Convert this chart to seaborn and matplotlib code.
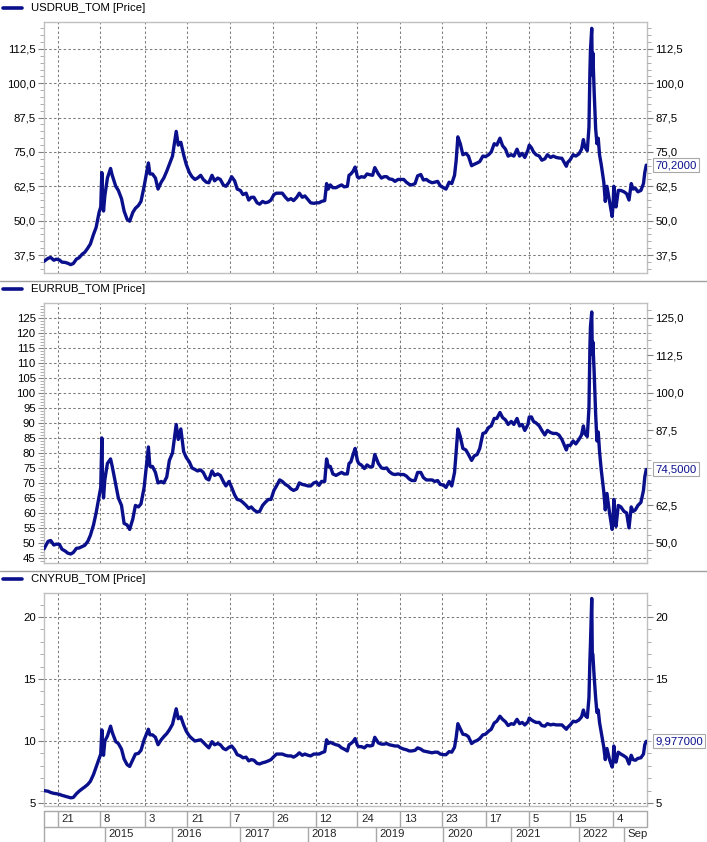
import matplotlib
matplotlib.use("Agg")
import matplotlib.pyplot as plt
from matplotlib.lines import Line2D
import seaborn as sns
import pandas as pd

sns.set_theme(style="white")
plt.rcParams['font.family'] = ['Liberation Sans', 'DejaVu Sans']

# ---------------- data ----------------
dates = [
    "2014-02-07", "2014-03-01", "2014-03-15", "2014-04-01", "2014-04-15", "2014-05-01", "2014-05-15",
    "2014-06-01", "2014-06-15", "2014-07-01", "2014-07-15", "2014-08-01", "2014-08-15", "2014-09-01",
    "2014-09-15", "2014-10-01", "2014-10-15", "2014-11-01", "2014-11-15", "2014-12-01", "2014-12-10",
    "2014-12-16", "2014-12-19", "2014-12-25",
    "2015-01-01", "2015-01-15", "2015-02-01", "2015-02-10", "2015-03-01", "2015-03-15", "2015-04-01",
    "2015-04-15", "2015-05-01", "2015-05-15", "2015-06-01", "2015-06-15", "2015-07-01", "2015-07-15",
    "2015-08-01", "2015-08-24", "2015-09-01", "2015-09-15", "2015-10-01", "2015-10-15", "2015-11-01",
    "2015-11-15", "2015-12-01", "2015-12-15",
    "2016-01-01", "2016-01-21", "2016-02-01", "2016-02-15", "2016-03-01", "2016-03-15", "2016-04-01",
    "2016-04-15", "2016-05-01", "2016-05-15", "2016-06-01", "2016-06-15", "2016-07-01", "2016-07-15",
    "2016-08-01", "2016-08-15", "2016-09-01", "2016-09-15", "2016-10-01", "2016-10-15", "2016-11-01",
    "2016-11-15", "2016-12-01", "2016-12-15",
    "2017-01-01", "2017-01-15", "2017-02-01", "2017-02-15", "2017-03-01", "2017-03-15", "2017-04-01",
    "2017-04-15", "2017-05-01", "2017-05-15", "2017-06-01", "2017-06-15", "2017-07-01", "2017-07-15",
    "2017-08-01", "2017-08-15", "2017-09-01", "2017-09-15", "2017-10-01", "2017-10-15", "2017-11-01",
    "2017-11-15", "2017-12-01", "2017-12-15",
    "2018-01-01", "2018-01-15", "2018-02-01", "2018-02-15", "2018-03-01", "2018-03-15", "2018-04-01",
    "2018-04-11", "2018-04-20", "2018-05-01", "2018-05-15", "2018-06-01", "2018-06-15", "2018-07-01",
    "2018-07-15", "2018-08-01", "2018-08-10", "2018-08-20", "2018-09-01", "2018-09-12", "2018-09-24",
    "2018-10-01", "2018-10-15", "2018-11-01", "2018-11-15", "2018-12-01", "2018-12-15", "2018-12-27",
    "2019-01-15", "2019-02-01", "2019-02-15", "2019-03-01", "2019-03-15", "2019-04-01", "2019-04-15",
    "2019-05-01", "2019-05-15", "2019-06-01", "2019-06-15", "2019-07-01", "2019-07-15", "2019-08-01",
    "2019-08-15", "2019-09-01", "2019-09-15", "2019-10-01", "2019-10-15", "2019-11-01", "2019-11-15",
    "2019-12-01", "2019-12-15",
    "2020-01-01", "2020-01-15", "2020-02-01", "2020-02-15", "2020-03-01", "2020-03-10", "2020-03-19",
    "2020-04-01", "2020-04-15", "2020-05-01", "2020-05-15", "2020-06-01", "2020-06-15", "2020-07-01",
    "2020-07-15", "2020-08-01", "2020-08-15", "2020-09-01", "2020-09-15", "2020-10-01", "2020-10-15",
    "2020-11-01", "2020-11-15", "2020-12-01", "2020-12-15",
    "2021-01-01", "2021-01-15", "2021-02-01", "2021-02-15", "2021-03-01", "2021-03-15", "2021-04-01",
    "2021-04-08", "2021-04-20", "2021-05-01", "2021-05-15", "2021-06-01", "2021-06-15", "2021-07-01",
    "2021-07-15", "2021-08-01", "2021-08-15", "2021-09-01", "2021-09-15", "2021-10-01", "2021-10-15",
    "2021-10-25", "2021-11-01", "2021-11-15", "2021-12-01", "2021-12-15",
    "2022-01-01", "2022-01-15", "2022-01-25", "2022-02-01", "2022-02-15", "2022-02-24", "2022-03-01",
    "2022-03-04", "2022-03-11", "2022-03-14", "2022-03-17", "2022-03-24", "2022-04-01", "2022-04-08",
    "2022-04-15", "2022-04-22", "2022-05-01", "2022-05-15", "2022-05-23", "2022-06-01", "2022-06-15",
    "2022-06-29", "2022-07-04", "2022-07-08", "2022-07-15", "2022-07-20", "2022-08-01", "2022-08-15",
    "2022-09-01", "2022-09-15", "2022-09-28", "2022-10-10", "2022-10-20", "2022-11-01", "2022-11-15",
    "2022-12-01", "2022-12-15", "2022-12-22", "2022-12-30",
]

usd = [
    35.2, 36.3, 36.6, 35.6, 36.0, 35.7, 34.9, 34.8, 34.5, 34.0, 34.4, 36.0, 36.5, 37.8,
    38.5, 40.0, 41.5, 45.0, 47.5, 53.0, 55.0, 67.5, 60.0, 53.5,
    59.0, 65.5, 69.0, 66.5, 62.5, 61.0, 58.0, 53.5, 50.5, 49.8, 53.0, 54.5, 55.5, 57.0,
    62.5, 71.0, 67.0, 67.0, 65.5, 61.5, 64.0, 65.5, 68.0, 70.5,
    73.5, 82.5, 77.5, 78.5, 74.0, 70.5, 67.5, 66.0, 65.0, 65.5, 66.5, 65.0, 64.0, 63.8,
    66.5, 64.5, 65.5, 65.0, 63.0, 62.5, 64.0, 66.0, 64.5, 61.5,
    61.0, 59.5, 60.0, 57.5, 58.5, 58.5, 56.5, 56.0, 57.0, 56.5, 56.8, 57.5, 59.5, 60.0,
    60.0, 60.0, 58.5, 57.5, 58.0, 57.3, 58.5, 60.0, 58.5, 59.0,
    57.6, 56.5, 56.3, 56.5, 56.5, 57.0, 57.3, 63.5, 61.5, 63.0, 62.0, 62.0, 62.5, 63.0,
    62.3, 62.5, 66.5, 67.0, 68.0, 69.5, 66.0, 65.5, 66.0, 65.8, 67.0, 66.7, 66.5, 69.3,
    67.0, 65.5, 66.0, 66.0, 65.2, 65.0, 64.3, 65.0, 65.0, 65.0, 64.0, 63.2, 63.0, 63.5,
    66.3, 66.8, 64.8, 65.0, 64.3, 63.8, 64.0, 64.3, 62.7,
    62.0, 61.5, 64.0, 63.5, 66.5, 72.0, 80.5, 78.0, 74.0, 74.5, 73.5, 70.0, 70.5, 71.0,
    71.5, 73.5, 73.3, 74.0, 75.0, 78.0, 77.5, 80.0, 77.3, 76.0, 73.5,
    74.0, 73.5, 76.0, 73.5, 74.5, 73.0, 75.7, 77.5, 76.5, 75.0, 74.0, 73.5, 72.0, 72.5,
    74.0, 73.0, 73.5, 73.0, 72.8, 72.7, 71.0, 69.8, 71.2, 72.2, 74.0, 73.5,
    74.3, 76.0, 79.5, 77.0, 75.5, 84.0, 104.0, 112.0, 120.0, 103.0, 111.0, 97.0, 83.5, 78.0,
    80.0, 74.0, 70.5, 64.0, 57.0, 62.5, 57.0, 51.5, 55.5, 62.5, 57.0, 55.0, 61.0, 61.0,
    60.5, 59.8, 57.5, 63.5, 61.5, 61.8, 60.5, 61.0, 63.5, 67.5, 70.2,
]

eur = [
    48.0, 50.5, 50.8, 49.3, 49.6, 49.5, 47.9, 47.3, 46.6, 46.3, 46.8, 48.2, 48.3, 48.8,
    49.2, 50.5, 52.5, 56.0, 60.0, 65.5, 68.5, 85.0, 74.0, 65.0,
    71.0, 76.5, 78.0, 75.5, 69.5, 65.0, 62.5, 56.5, 56.0, 54.5, 58.0, 62.5, 62.0, 63.0,
    68.5, 82.0, 75.5, 75.5, 73.5, 70.0, 70.5, 70.0, 72.0, 77.5,
    80.0, 89.5, 84.5, 88.0, 80.5, 78.5, 77.0, 75.0, 74.5, 74.0, 74.3, 73.5, 71.5, 71.0,
    74.0, 72.5, 73.0, 72.5, 70.5, 69.0, 70.5, 68.5, 66.0, 64.5,
    64.2, 63.5, 62.5, 61.5, 62.0, 61.0, 60.3, 60.5, 62.5, 63.5, 64.5, 64.5, 67.5, 69.0,
    71.0, 70.5, 69.5, 69.0, 68.0, 67.5, 68.0, 70.0, 69.5, 69.3,
    69.0, 69.0, 70.0, 70.3, 69.2, 70.5, 70.5, 78.0, 75.5, 75.5, 73.0, 72.5, 73.0, 73.5,
    73.0, 73.0, 76.5, 77.0, 79.5, 81.5, 77.5, 76.5, 76.0, 74.8, 76.0, 75.3, 75.5, 79.5,
    76.5, 75.0, 74.8, 75.0, 73.8, 73.0, 72.8, 73.0, 72.8, 72.8, 72.3, 71.3, 70.8, 70.8,
    73.5, 73.5, 71.8, 71.0, 71.0, 71.0, 70.5, 70.8, 69.5,
    69.3, 68.5, 70.5, 69.0, 73.5, 80.5, 88.0, 85.5, 81.5, 81.0, 79.5, 77.5, 79.0, 79.5,
    81.5, 86.5, 86.8, 88.5, 89.0, 91.5, 91.5, 93.5, 91.8, 91.0, 89.5,
    90.5, 89.5, 91.5, 89.0, 89.5, 87.5, 89.5, 92.0, 92.0, 90.5, 90.0, 89.0, 87.5, 86.0,
    87.5, 86.8, 86.5, 86.5, 86.0, 84.5, 82.5, 81.0, 82.5, 82.5, 84.0, 83.0,
    84.5, 86.0, 89.0, 86.5, 85.5, 95.0, 115.0, 122.0, 127.0, 113.0, 117.0, 107.0, 93.0, 84.0,
    87.0, 80.5, 74.5, 67.0, 61.0, 66.5, 60.0, 54.5, 57.5, 64.5, 57.5, 55.5, 62.5, 62.0,
    60.5, 60.0, 55.0, 62.0, 60.5, 61.0, 62.5, 63.5, 67.5, 72.0, 74.5,
]

cny = [
    6.00, 5.95, 5.85, 5.78, 5.75, 5.70, 5.62, 5.55, 5.50, 5.42, 5.45, 5.75, 5.95, 6.15,
    6.30, 6.50, 6.75, 7.30, 7.90, 8.60, 8.95, 10.90, 9.70, 8.85,
    10.00, 10.40, 11.20, 10.70, 9.95, 9.80, 9.35, 8.55, 8.10, 7.95, 8.50, 8.95, 9.00, 9.25,
    10.10, 10.95, 10.50, 10.50, 10.30, 9.70, 10.10, 10.35, 10.60, 10.90,
    11.35, 12.60, 11.80, 11.95, 11.30, 10.80, 10.40, 10.20, 10.00, 10.05, 10.10, 9.90, 9.65, 9.45,
    9.95, 9.70, 9.80, 9.70, 9.40, 9.30, 9.50, 9.60, 9.30, 8.90,
    8.80, 8.65, 8.70, 8.40, 8.50, 8.45, 8.20, 8.15, 8.25, 8.30, 8.40, 8.50, 8.75, 8.95,
    8.95, 8.95, 8.85, 8.80, 8.80, 8.70, 8.85, 9.05, 8.85, 8.95,
    8.85, 8.80, 8.95, 8.95, 8.95, 9.05, 9.15, 10.10, 9.80, 9.90, 9.80, 9.70, 9.65, 9.45,
    9.35, 9.20, 9.70, 9.80, 9.95, 10.20, 9.65, 9.55, 9.55, 9.45, 9.65, 9.60, 9.65, 10.30,
    9.85, 9.75, 9.75, 9.80, 9.70, 9.65, 9.60, 9.60, 9.45, 9.35, 9.30, 9.20, 9.20, 9.25,
    9.45, 9.35, 9.20, 9.15, 9.10, 9.05, 9.10, 9.10, 8.95,
    8.90, 8.90, 9.15, 9.10, 9.50, 10.30, 11.40, 11.00, 10.55, 10.50, 10.35, 9.80, 9.95, 10.05,
    10.20, 10.50, 10.55, 10.80, 10.95, 11.45, 11.60, 12.00, 11.75, 11.55, 11.25,
    11.40, 11.35, 11.75, 11.40, 11.50, 11.30, 11.55, 11.85, 11.70, 11.60, 11.50, 11.50, 11.25, 11.20,
    11.40, 11.30, 11.35, 11.30, 11.30, 11.30, 11.10, 10.95, 11.10, 11.30, 11.60, 11.55,
    11.70, 11.95, 12.50, 12.10, 11.90, 13.50, 16.50, 17.80, 21.50, 17.00, 17.00, 15.20, 13.50, 12.30,
    12.50, 11.50, 10.70, 9.50, 8.50, 9.40, 8.50, 7.90, 8.30, 9.60, 8.50, 8.30, 9.10, 8.95,
    8.80, 8.65, 8.15, 8.85, 8.50, 8.45, 8.60, 8.65, 8.95, 9.70, 9.977,
]

series_names = ["USDRUB_TOM [Price]", "EURRUB_TOM [Price]", "CNYRUB_TOM [Price]"]
last_labels = ["70,2000", "74,5000", "9,977000"]

grid_dates = ["2014-04-21", "2014-12-08", "2015-08-03", "2016-03-21", "2016-11-07", "2017-06-26",
              "2018-02-12", "2018-09-24", "2019-05-13", "2019-12-23", "2020-08-17", "2021-04-05",
              "2021-11-15", "2022-07-04"]
period_starts = ["2015-01-01", "2016-01-01", "2017-01-01", "2018-01-01", "2019-01-01",
                 "2020-01-01", "2021-01-01", "2022-01-01", "2022-09-01"]
period_labels = ["2015", "2016", "2017", "2018", "2019", "2020", "2021", "2022", "Sep"]

# axis ticks per panel
p1_ticks = [37.5, 50.0, 62.5, 75.0, 87.5, 100.0, 112.5]
p2_left_ticks = [45, 50, 55, 60, 65, 70, 75, 80, 85, 90, 95, 100, 105, 110, 115, 120, 125]
p2_right_ticks = [50.0, 62.5, 87.5, 100.0, 112.5, 125.0]
p3_left_ticks = [5, 10, 15, 20]
p3_right_ticks = [5, 15, 20]

# ---------------- build ----------------
df = pd.DataFrame({"date": pd.to_datetime(dates), "usd": usd, "eur": eur, "cny": cny})
gd = pd.to_datetime(grid_dates)
ps = pd.to_datetime(period_starts)
xlim = (pd.Timestamp("2014-02-07"), pd.Timestamp("2023-01-03"))

NAVY = "#0a0f8c"
GRID = "#7a7a7a"
FRAME = "#c0c0c0"
FS = 8.2

W, H = 707, 842
fig = plt.figure(figsize=(W / 100, H / 100), dpi=100)
fig.patch.set_facecolor("white")


def fx(px):
    return px / W


def fy(py):
    return 1 - py / H


def comma1(v):
    return f"{v:.1f}".replace(".", ",")


panel_boxes = [(22, 273), (303, 563), (593, 806)]
ylims = [(30.95, 122.3), (43.3, 130.0), (4.76, 21.94)]
cols = ["usd", "eur", "cny"]
left_ticks = [p1_ticks, p2_left_ticks, p3_left_ticks]
left_fmt = [comma1, lambda v: f"{v:g}", lambda v: f"{v:g}"]
right_ticks = [p1_ticks, p2_right_ticks, p3_right_ticks]
right_fmt = [comma1, comma1, lambda v: f"{v:g}"]
left_minor = [2.5, 1.0, 1.0]
right_minor = [2.5, 2.5, 1.0]
header_y = [8, 289, 579]

import numpy as np

for i in range(3):
    top, bot = panel_boxes[i]
    ax = fig.add_axes([fx(44), fy(bot), fx(603), (bot - top) / H])
    ax.set_axisbelow(True)
    sns.lineplot(data=df, x="date", y=cols[i], ax=ax, color=NAVY, linewidth=2.4, zorder=3)
    ax.set_xlim(*xlim)
    ax.set_ylim(*ylims[i])
    ax.set_xlabel("")
    ax.set_ylabel("")
    ax.set_xticks(gd)
    ax.set_xticklabels([])
    ax.tick_params(axis="x", length=0)
    lo, hi = ylims[i]
    ax.set_yticks(left_ticks[i])
    ax.set_yticklabels([left_fmt[i](v) for v in left_ticks[i]], fontsize=FS)
    step = left_minor[i]
    ax.set_yticks(np.arange(np.ceil(lo / step) * step, hi, step), minor=True)
    ax.tick_params(axis="y", which="major", length=4, width=0.8, color="#808080", pad=2, labelcolor="black")
    ax.tick_params(axis="y", which="minor", length=3, width=0.6, color="#a0a0a0")
    ax.grid(True, which="major", axis="both", linestyle=(0, (2.3, 2.3)), color=GRID, linewidth=0.75)
    for s in ax.spines.values():
        s.set_color(FRAME)
        s.set_linewidth(1.0)

    axr = ax.twinx()
    axr.set_ylim(*ylims[i])
    axr.set_yticks(right_ticks[i])
    axr.set_yticklabels([right_fmt[i](v) for v in right_ticks[i]], fontsize=FS)
    step = right_minor[i]
    axr.set_yticks(np.arange(np.ceil(lo / step) * step, hi, step), minor=True)
    axr.tick_params(axis="y", which="major", length=4, width=0.8, color="#808080", pad=2, labelcolor="black")
    axr.tick_params(axis="y", which="minor", length=3, width=0.6, color="#a0a0a0")
    axr.grid(False)
    for s in axr.spines.values():
        s.set_visible(False)

    last_val = df[cols[i]].iloc[-1]
    axr.annotate(last_labels[i], xy=(1.0, last_val), xycoords=("axes fraction", "data"),
                 xytext=(6.0, 0), textcoords="offset points", ha="left", va="center",
                 fontsize=FS, color=NAVY, zorder=10,
                 bbox=dict(boxstyle="square,pad=0.18", fc="white", ec="#a8a8a8", lw=0.8))

    # header legend
    hy = fy(header_y[i])
    fig.add_artist(Line2D([fx(3), fx(22)], [hy, hy], color=NAVY, linewidth=2.6))
    fig.text(fx(31), hy, series_names[i], fontsize=FS, va="center", ha="left", color="black")

# separators between panels
for sy in (280.5, 571):
    fig.add_artist(Line2D([0, 1], [fy(sy), fy(sy)], color="#a0a0a0", linewidth=1.0))

# date axis
axd = fig.add_axes([fx(44), 0, fx(603), 31 / H])
axd.set_xlim(*xlim)
axd.set_ylim(0, 1)
axd.axis("off")
mid = 15.5 / 31
LC = "#a8a8a8"
axd.axhline(1, color=LC, lw=1.0, clip_on=False)
axd.axhline(mid, color=LC, lw=1.0)
axd.axvline(xlim[0], color=LC, lw=1.0, clip_on=False)
axd.axvline(xlim[1], ymin=mid, ymax=1, color=LC, lw=1.0, clip_on=False)
axd.vlines(gd, mid, 1, color=LC, lw=1.0)
axd.vlines(ps, 0, mid, color=LC, lw=1.0)
for d in gd:
    axd.annotate(str(d.day), xy=(d, (1 + mid) / 2), xytext=(2.6, 0), textcoords="offset points",
                 ha="left", va="center", fontsize=FS)
for d, lab in zip(ps, period_labels):
    axd.annotate(lab, xy=(d, mid / 2), xytext=(2.6, 0), textcoords="offset points",
                 ha="left", va="center", fontsize=FS)

fig.savefig("out.png", dpi=100, facecolor="white")
